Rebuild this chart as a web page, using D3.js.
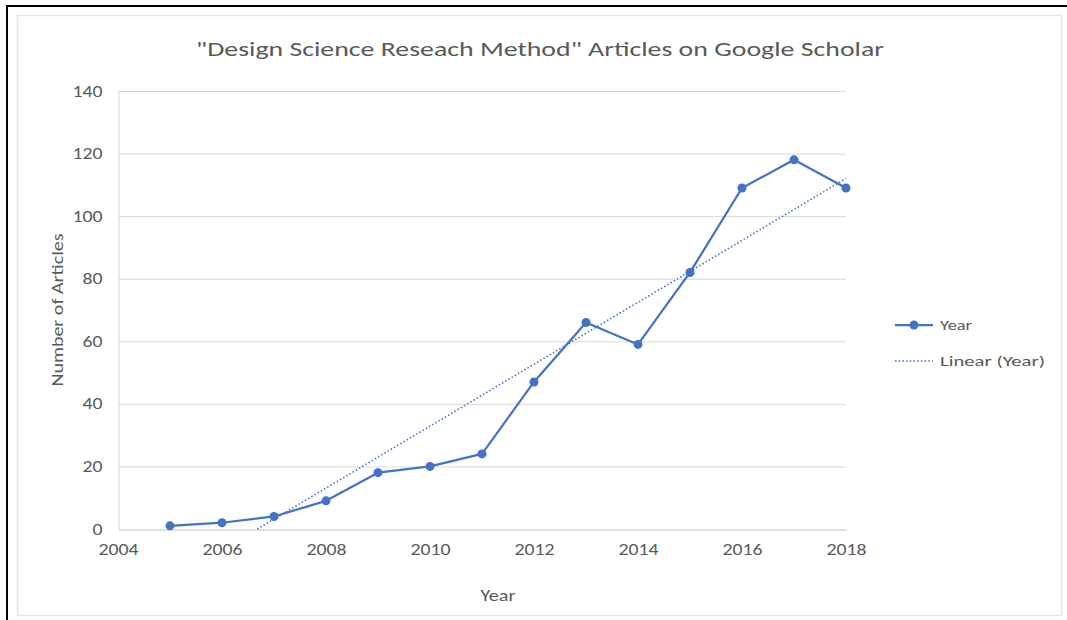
<!DOCTYPE html>
<html><head><meta charset="utf-8">
<script src="https://cdn.jsdelivr.net/npm/d3@7"></script>
<style>body{margin:0;background:#fff;}svg{display:block;}</style>
</head><body>
<svg id="c" width="1067" height="620"></svg>
<script>
const years = [2005,2006,2007,2008,2009,2010,2011,2012,2013,2014,2015,2016,2017,2018];
const articles = [1,2,4,9,18,20,24,47,66,59,82,109,118,109];
const xTicks = [2004,2006,2008,2010,2012,2014,2016,2018];
const yTicks = [0,20,40,60,80,100,120,140];
const title = "\"Design Science Reseach Method\" Articles on Google Scholar";
const seriesName = "Year";
const trendName = "Linear (Year)";

const svg = d3.select("#c");
const font = "Calibri, Carlito, 'Open Sans', 'Liberation Sans', sans-serif";
const txt = "#595959";
const blue = "#4472C4";

// frame
svg.append("rect").attr("x",17.5).attr("y",15.5).attr("width",1044).attr("height",600)
  .attr("fill","none").attr("stroke","#e6e6e6").attr("stroke-width",1.5);
svg.append("line").attr("x1",7).attr("x2",1067).attr("y1",6).attr("y2",6).attr("stroke","#000").attr("stroke-width",2);
svg.append("line").attr("x1",7).attr("x2",7).attr("y1",5).attr("y2",620).attr("stroke","#000").attr("stroke-width",2);

const x = d3.scaleLinear().domain([2004,2018]).range([118,846]);
const y = d3.scaleLinear().domain([0,140]).range([529,91]);

// gridlines
svg.append("g").selectAll("line").data(yTicks.filter(d=>d>0)).join("line")
  .attr("x1",118).attr("x2",846).attr("y1",d=>y(d)+0.5).attr("y2",d=>y(d)+0.5)
  .attr("stroke","#d9d9d9").attr("stroke-width",1);

// axes
const gx = svg.append("g").attr("transform","translate(0,"+(y(0)+0.5)+")")
  .call(d3.axisBottom(x).tickValues(xTicks).tickFormat(d3.format("d")).tickSize(0).tickPadding(14));
gx.select(".domain").attr("stroke","#bfbfbf");
gx.selectAll("text").attr("fill",txt).style("font-family",font).style("font-size","16px")
  .attr("textLength",40).attr("lengthAdjust","spacingAndGlyphs");

const gy = svg.append("g").attr("transform","translate(118.5,0)")
  .call(d3.axisLeft(y).tickValues(yTicks).tickSize(0).tickPadding(16));
gy.select(".domain").attr("stroke","#d9d9d9");
gy.selectAll("text").attr("fill",txt).style("font-family",font).style("font-size","16px")
  .attr("textLength",d=>String(d).length*10).attr("lengthAdjust","spacingAndGlyphs");

// trendline via least squares from the data
const mx = d3.mean(years), my = d3.mean(articles);
const slope = d3.sum(years,(v,i)=>(v-mx)*(articles[i]-my)) / d3.sum(years,v=>(v-mx)*(v-mx));
const icpt = my - slope*mx;
const x0 = Math.max(years[0], -icpt/slope);
const trend = [[x0, slope*x0+icpt],[years[years.length-1], slope*years[years.length-1]+icpt]];
svg.append("path").datum(trend)
  .attr("d", d3.line().x(d=>x(d[0])).y(d=>y(d[1])))
  .attr("fill","none").attr("stroke",blue).attr("stroke-width",1.6).attr("stroke-dasharray","1.5,2.2");

// series
const pts = years.map((v,i)=>[v,articles[i]]);
svg.append("path").datum(pts)
  .attr("d", d3.line().x(d=>x(d[0])).y(d=>y(d[1])))
  .attr("fill","none").attr("stroke",blue).attr("stroke-width",2.25).attr("stroke-linejoin","round");
svg.append("g").selectAll("circle").data(pts).join("circle")
  .attr("cx",d=>x(d[0])).attr("cy",d=>y(d[1])).attr("r",4.5).attr("fill",blue);

// title
svg.append("text").attr("x",540).attr("y",56).attr("text-anchor","middle")
  .attr("fill",txt).style("font-family",font).style("font-size","21px")
  .attr("textLength",688).attr("lengthAdjust","spacingAndGlyphs").text(title);

// axis titles
svg.append("text").attr("x",498).attr("y",601).attr("text-anchor","middle")
  .attr("fill",txt).style("font-family",font).style("font-size","16px")
  .attr("textLength",35).attr("lengthAdjust","spacingAndGlyphs").text("Year");
svg.append("text").attr("transform","translate(63,310) rotate(-90)").attr("text-anchor","middle")
  .attr("fill",txt).style("font-family",font).style("font-size","16px")
  .attr("textLength",153).attr("lengthAdjust","spacingAndGlyphs").text("Number of Articles");

// legend
const lg = svg.append("g");
lg.append("line").attr("x1",895).attr("x2",933).attr("y1",325).attr("y2",325).attr("stroke",blue).attr("stroke-width",2.25);
lg.append("circle").attr("cx",914).attr("cy",325).attr("r",4.5).attr("fill",blue);
lg.append("text").attr("x",940).attr("y",330).attr("fill",txt).style("font-family",font).style("font-size","15px")
  .attr("textLength",32).attr("lengthAdjust","spacingAndGlyphs").text(seriesName);
lg.append("line").attr("x1",895).attr("x2",933).attr("y1",361).attr("y2",361).attr("stroke",blue).attr("stroke-width",1.6).attr("stroke-dasharray","1.5,2.2");
lg.append("text").attr("x",940).attr("y",366).attr("fill",txt).style("font-family",font).style("font-size","15px")
  .attr("textLength",105).attr("lengthAdjust","spacingAndGlyphs").text(trendName);
</script>
</body></html>
